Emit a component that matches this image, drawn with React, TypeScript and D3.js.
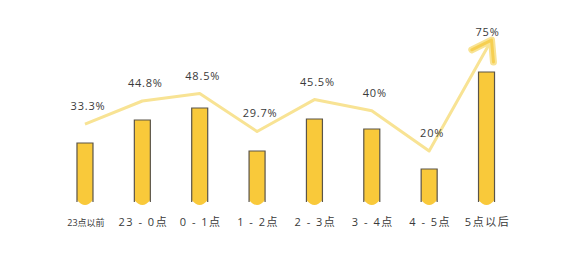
import React from "react";
import * as d3 from "d3";

const categories = ["23点以前", "23 - 0点", "0 - 1点", "1 - 2点", "2 - 3点", "3 - 4点", "4 - 5点", "5点以后"];
const barValues = [63, 86, 98, 55, 87, 77, 37, 134];
const rateValues = [33.3, 44.8, 48.5, 29.7, 45.5, 40, 20, 75];
const rateLabels = ["33.3%", "44.8%", "48.5%", "29.7%", "45.5%", "40%", "20%", "75%"];

const W = 586;
const H = 258;

export default function App() {
  const x = d3.scaleBand<string>().domain(categories).range([56.3, 515.2]).padding(0);
  const yBar = d3.scaleLinear().domain([0, 134]).range([206, 72]);
  const yLine = d3.scaleLinear().domain([0, 100]).range([191.4, -10.4]);
  const cx = (c: string) => (x(c) as number) + x.bandwidth() / 2;
  const bw = 16;

  const pts: [number, number][] = categories.map((c, i) => [cx(c) + (i === categories.length - 1 ? 5 : 0), yLine(rateValues[i])]);
  const line = d3.line().curve(d3.curveLinear)(pts) as string;
  const tip = pts[pts.length - 1];
  const prev = pts[pts.length - 2];
  const ang = Math.atan2(tip[1] - prev[1], tip[0] - prev[0]);
  const ah = 22;
  const a1: [number, number] = [tip[0] - ah * Math.cos(ang - 0.6), tip[1] - ah * Math.sin(ang - 0.6)];
  const a2: [number, number] = [tip[0] - ah * Math.cos(ang + 0.6), tip[1] - ah * Math.sin(ang + 0.6)];
  const arrow = d3.line()([a1, tip, a2]) as string;

  return (
    <svg width={W} height={H} style={{ position: "absolute", left: 0, top: 0, background: "#fff" }}>
      {categories.map((c, i) => {
        const x0 = cx(c) - bw / 2;
        const top = yBar(barValues[i]);
        const bot = yBar(0);
        const fill = `M${x0},${top} H${x0 + bw} V${bot - 6} Q${x0 + bw / 2},${bot + 4} ${x0},${bot - 6} Z`;
        const outline = `M${x0},${bot - 4} V${top} H${x0 + bw} V${bot - 4}`;
        return (
          <g key={c}>
            <path d={fill} fill="#F9C93A" />
            <path d={outline} fill="none" stroke="#5a5448" strokeWidth={1.2} />
          </g>
        );
      })}
      <path d={line} fill="none" stroke="#F8E394" strokeWidth={3} strokeLinejoin="round" />
      <path d={arrow} fill="none" stroke="#F8E394" strokeWidth={7} strokeLinejoin="round" strokeLinecap="round" />
      <path d={arrow} fill="none" stroke="#F6CF52" strokeWidth={3} strokeLinejoin="round" strokeLinecap="round" />
      {categories.map((c, i) => {
        const last = i === categories.length - 1;
        const yy = last ? pts[i][1] - 4 : pts[i][1] - 14;
        return (
          <text key={"l" + c} x={pts[i][0] + (last ? -4 : 3)} y={yy} textAnchor="middle" fontFamily="Open Sans, sans-serif" fontSize={11} fill="#3a3a3a" letterSpacing={0.8}>
            {rateLabels[i]}
          </text>
        );
      })}
      {categories.map((c, i) => (
        <text key={"c" + c} x={cx(c) + 1} y={226} textAnchor="middle" fontFamily="Open Sans, 'Noto Sans CJK SC', sans-serif" fontSize={i === 0 ? 9 : 11} fill="#3a3a3a" letterSpacing={i === 0 ? 0 : 1.5}>
          {c}
        </text>
      ))}
    </svg>
  );
}
